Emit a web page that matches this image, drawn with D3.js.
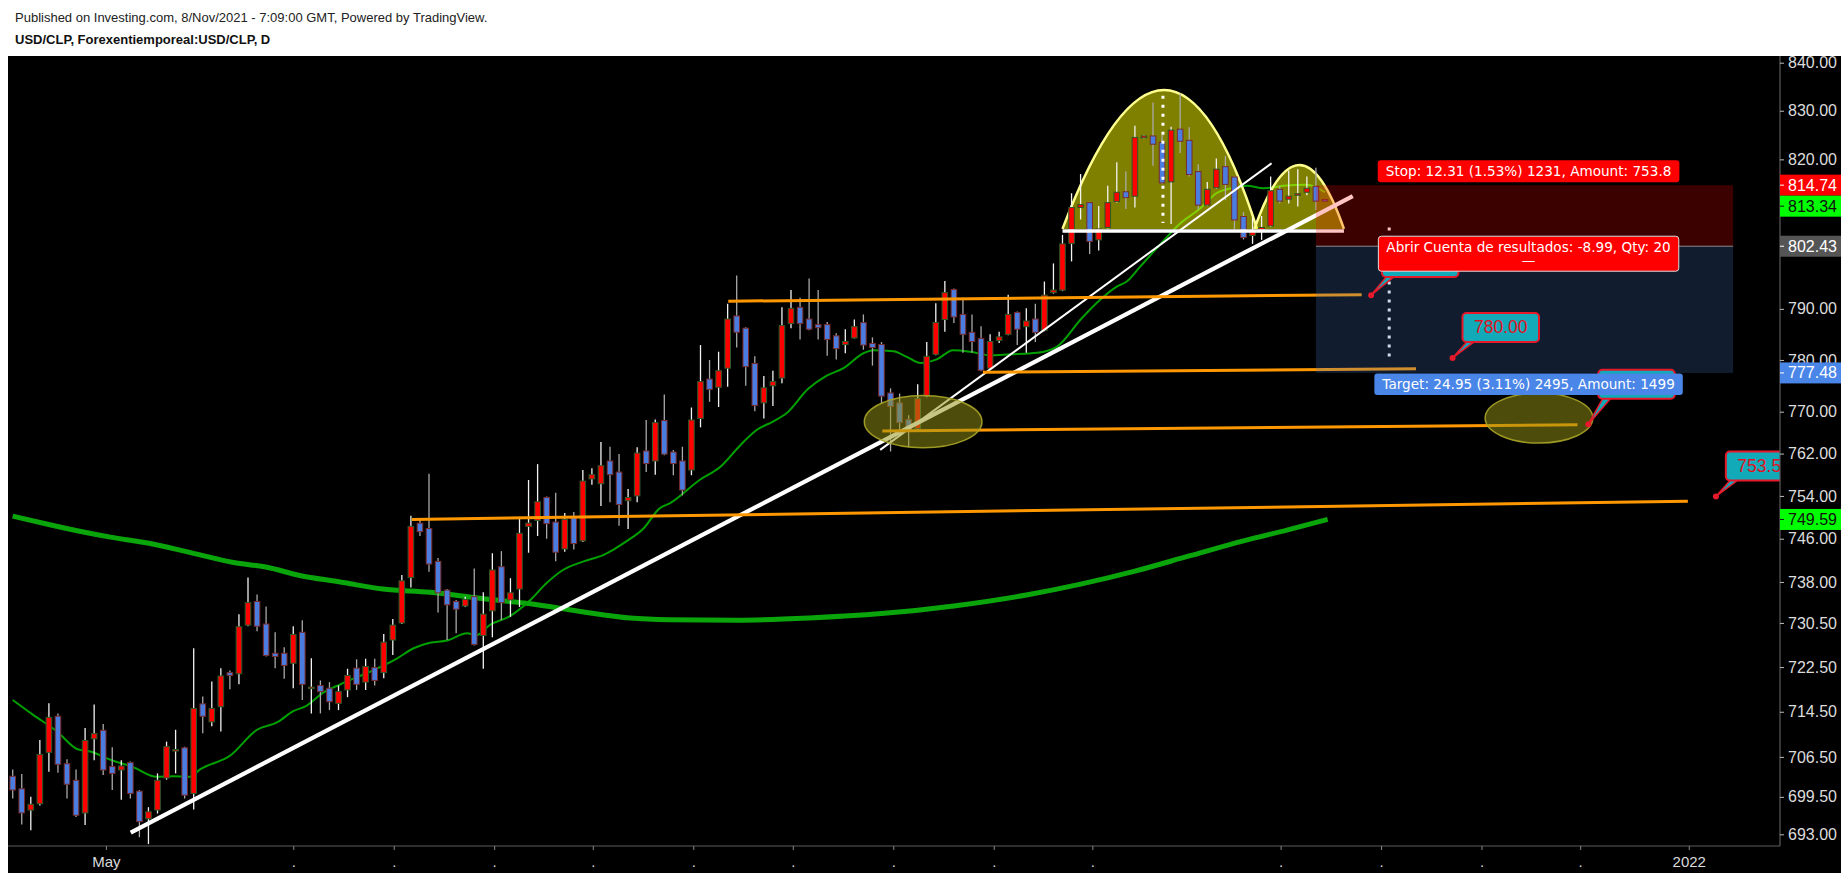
<!DOCTYPE html>
<html><head><meta charset="utf-8">
<script src="https://cdn.jsdelivr.net/npm/d3@7/dist/d3.min.js"></script>
<style>html,body{margin:0;padding:0;background:#fff;}svg{display:block;}</style>
</head><body>
<svg id="chart" width="1848" height="878"></svg>
<script>
// ---------------- DATA ----------------
const opens  = [703.1,700.9,697.2,698.3,707.3,713.7,705.3,702.4,696.7,709.7,711.2,704.8,704.2,705.5,700.5,695.7,697.2,702.8,707.6,708.1,700.1,715.9,712.7,715.4,721.5,721.3,730.1,734.4,730.3,725.0,725.0,723.2,728.8,718.7,719.2,718.7,716.0,718.4,722.3,719.8,722.4,721.5,727.4,730.5,738.8,748.9,747.9,741.8,736.5,734.4,733.6,735.3,728.2,732.7,740.8,734.7,736.7,748.3,749.4,753.7,749.1,744.1,749.9,745.6,757.2,756.3,760.6,758.5,753.1,754.0,762.5,760.6,768.3,762.3,760.6,758.9,768.7,776.3,774.7,778.4,788.6,786.2,779.3,771.7,775.0,776.5,787.1,790.3,788.0,786.9,786.9,784.7,783.0,784.3,787.3,783.2,783.0,773.6,771.7,768.5,766.8,773.0,781.1,787.9,793.8,788.9,785.4,784.2,778.4,783.8,785.0,789.3,786.5,788.0,785.8,793.2,793.7,803.0,810.2,811.2,803.7,806.2,811.4,813.4,812.5,824.4,824.8,823.5,815.4,826.2,823.9,817.5,810.7,814.2,818.5,816.4,808.4,804.6,805.7,806.5,813.9,811.9,812.7,813.3,814.5,811.8];
const highs  = [704.3,703.5,699.5,709.5,716.0,714.2,706.1,704.3,711.6,715.8,712.3,708.2,705.9,705.7,700.7,697.7,703.6,709.2,711.3,708.3,725.9,717.2,719.9,722.3,721.9,732.1,738.8,735.7,733.5,728.8,726.1,729.9,731.0,724.1,720.1,719.8,719.2,722.2,723.9,724.0,724.0,728.5,731.2,739.3,750.3,749.6,758.2,742.4,736.7,734.7,735.3,740.5,736.1,743.3,743.7,738.7,749.8,757.0,760.0,753.9,754.6,750.8,751.0,758.9,759.2,764.2,763.3,761.9,755.3,763.2,768.4,768.5,773.3,762.7,763.3,770.8,782.9,780.0,781.6,791.0,796.6,786.4,780.7,776.9,777.9,790.3,793.7,792.2,796.0,793.7,787.4,785.2,786.0,787.9,788.9,784.4,783.5,774.5,773.5,769.3,775.3,783.5,791.1,795.5,794.0,792.2,788.9,786.6,785.0,785.5,792.8,789.5,790.1,791.0,795.4,799.0,804.7,813.1,817.0,811.4,810.5,814.6,819.4,817.5,826.9,825.0,831.7,825.0,826.7,833.6,826.6,819.0,815.4,820.2,820.7,816.6,809.3,808.2,808.5,816.5,814.5,817.7,818.0,816.5,818.3,811.9];
const lows   = [699.2,694.7,693.7,698.0,703.9,703.7,699.2,696.0,694.6,705.9,703.3,700.7,699.0,699.2,692.5,691.3,696.6,702.5,703.6,699.2,697.3,710.7,711.9,711.0,718.5,719.4,729.9,729.0,724.4,722.3,720.4,718.7,716.6,714.2,714.2,714.8,714.8,717.1,718.4,718.4,719.2,720.5,724.7,730.3,737.0,746.5,739.9,732.4,727.4,728.6,733.4,726.4,722.2,727.9,731.0,731.6,733.4,743.4,746.5,746.0,741.8,743.6,744.0,745.4,756.1,752.1,752.8,748.4,747.8,752.8,758.5,758.0,761.7,757.9,754.1,757.9,767.0,771.9,770.9,774.8,782.4,775.0,770.1,768.7,771.1,775.5,786.2,784.0,785.8,784.0,780.8,780.1,781.3,784.2,782.0,778.9,771.6,762.4,765.3,763.2,766.1,772.8,780.9,785.5,787.2,781.4,781.4,777.8,778.2,783.3,784.8,782.9,781.4,783.5,785.6,793.0,793.5,799.4,807.8,800.9,801.6,806.0,811.2,809.9,810.2,824.2,818.7,815.0,806.9,821.3,816.5,809.8,810.5,814.0,811.7,805.8,803.8,802.9,803.7,806.3,811.1,811.0,810.4,812.7,809.7,811.5];
const closes = [700.7,696.7,698.2,706.9,713.5,705.2,701.7,696.3,709.4,710.6,704.2,703.6,704.9,700.1,695.2,696.9,702.4,708.3,707.8,699.8,715.1,713.7,715.1,720.9,721.0,729.8,734.2,729.9,724.6,724.4,722.8,728.4,719.4,718.9,718.1,716.3,718.1,721.0,719.4,722.6,720.1,727.0,730.1,738.2,748.3,747.3,741.3,736.0,733.8,733.0,734.8,726.6,732.1,740.2,734.2,736.0,747.0,748.9,752.9,748.8,743.5,749.6,745.1,756.8,758.0,759.7,758.0,752.4,753.7,762.1,760.1,767.9,761.9,760.1,755.1,768.4,775.8,774.3,777.9,788.0,785.4,778.7,771.2,774.6,775.8,786.7,790.1,787.1,786.0,786.3,784.0,782.2,783.6,786.5,782.9,782.4,773.0,771.0,767.9,766.5,772.5,780.7,787.3,793.2,788.4,785.0,783.6,778.0,783.6,784.5,788.9,786.0,787.6,785.4,792.7,793.7,802.9,810.2,810.8,803.4,805.9,811.2,813.3,812.2,824.5,824.8,823.1,815.2,826.0,823.7,816.9,810.7,813.9,818.0,814.9,807.7,804.2,805.5,806.2,813.6,811.5,812.5,813.0,814.1,811.5,811.6];

// moving averages: [bar index, price]
const maFast = [[0,716.6],[2.3,713.9],[4.9,711.0],[7.1,707.9],[8.7,707.4],[10.8,706.0],[13.3,704.7],[15.9,703.0],[17.7,703.1],[19.6,703.0],[20.7,704.3],[24.0,706.7],[27.0,711.3],[29.2,712.6],[31.0,714.6],[32.5,715.6],[34.3,717.9],[36.2,719.4],[39.8,721.9],[42.4,724.0],[44.3,725.9],[46.1,726.9],[48.0,727.3],[50.2,728.6],[51.3,728.3],[52.7,730.1],[54.9,731.7],[57.2,734.7],[59.0,737.8],[60.8,740.2],[63.1,741.8],[65.3,743.0],[67.8,745.5],[69.7,747.9],[71.5,751.7],[72.6,752.6],[75.9,757.0],[78.2,759.5],[80.4,763.6],[82.2,766.5],[84.0,768.1],[85.5,769.7],[87.9,774.4],[89.9,776.9],[91.8,778.4],[94.0,781.3],[95.1,781.9],[97.3,781.7],[98.8,780.6],[100.3,779.4],[102.1,780.1],[103.9,781.9],[105.8,781.6],[108.0,780.9],[110.2,781.1],[113.2,781.4],[115.4,782.6],[118.1,788.1],[120.1,791.7],[122.0,794.4],[123.1,795.4],[124.6,798.4],[126.4,802.0],[129.0,807.0],[131.2,810.0],[133.0,813.1],[134.9,814.2],[136.4,814.6],[138.2,814.1],[140.4,814.6],[143.0,814.8],[145.0,813.3]];
const maSlow = [[0,750.2],[4.1,748.6],[7.4,747.4],[10.8,746.3],[15.2,745.1],[19.2,743.6],[24.4,741.6],[28.1,740.7],[31.7,739.2],[36.2,738.0],[40.9,736.7],[46.1,736.1],[51.6,735.0],[57.2,734.0],[62.7,732.6],[68.2,731.4],[72.6,731.1],[80,731.0],[88,731.4],[96,732.2],[104,733.6],[112,735.6],[118,737.6],[124,740.0],[130,742.8],[136,745.6],[141,747.7],[145.3,749.6]];

// axis ticks
const priceTicks = [840,830,820,790,780,770,762,754,746,738,730.5,722.5,714.5,706.5,699.5,693];
const timeTickIdx = [10.3,31.0,42.1,53.2,64.1,75.2,86.2,97.3,108.4,119.3,140.1,151.2,162.3,173.2,185.2];
const timeTickLabels = ['May','.','.','.','.','.','.','.','.','.','.','.','.','.','2022'];

// drawings anchored in [bar index, price]
const arcStarts = [[116.0,805.9],[137.2,805.9]];
const arcCtrls  = [[127.68,863.7],[142.2,832.0]];
const arcEnds   = [[137.5,805.9],[147.1,805.9]];
const arcBase   = [[116.0,805.5],[147.1,805.5]];
const dottedLines = [[[127.1,833.1],[127.1,807.1]],[[152.1,806.2],[152.1,779.6]]];
const trendThick = [[13.04,693.3],[148.07,812.5]];
const trendThin  = [[95.85,762.7],[139.1,819.2]];
const orangeLines = [[[44.1,749.6],[185.1,753.0]],[[79.07,791.5],[149.06,792.8]],[[107.2,777.6],[155.06,778.3]],[[96.1,766.3],[172.9,767.5]]];
const ellipses = [[[94.1,773.1],[107.1,763.1]],[[162.7,773.6],[174.6,764.0]]];
// callouts whose text is hidden behind the position labels carry no text
const callouts = [
  {dot:[150.1,792.7], box:[151.3,802.1], text:''},
  {dot:[159.1,780.4], box:[160.2,789.2], text:'780.00'},
  {dot:[174.1,767.6], box:[175.2,778.1], text:''},
  {dot:[188.2,753.9], box:[189.3,762.4], text:'753.50'}
];
const zoneIdx = [144.0,190.1];
const stopPrice = 814.74, entryPrice = 802.43, targetPrice = 777.48;
const labelCenterIdx = 167.5;
const stopText = 'Stop: 12.31 (1.53%) 1231, Amount: 753.8';
const openText = 'Abrir Cuenta de resultados: -8.99, Qty: 20';
const targetText = 'Target: 24.95 (3.11%) 2495, Amount: 1499';
const valueLabels = [[814.74,'#ff0000','#ffffff'],[813.34,'#00ff00','#111111'],[802.43,'#555555','#ffffff'],[777.48,'#4a86e8','#ffffff'],[749.59,'#00ff00','#111111']];

// ---------------- CHART ----------------
const svg = d3.select('#chart');
const plot = {x0:8, y0:56, x1:1780, y1:846};
const x = d3.scaleLinear().domain([0,145]).range([12.7, 12.7+9.05*145]);
const y = d3.scaleLog().domain([693,840]).range([834.3,62.7]);
const P = p => [x(p[0]), y(p[1])];

svg.append('rect').attr('width',1848).attr('height',878).attr('fill','#fff');
svg.append('text').attr('x',15).attr('y',21.5).attr('font-family','Arial, "Liberation Sans", sans-serif').attr('font-size',13).attr('fill','#222')
  .text('Published on Investing.com, 8/Nov/2021 - 7:09:00 GMT, Powered by TradingView.');
svg.append('text').attr('x',15).attr('y',43.5).attr('font-family','Arial, "Liberation Sans", sans-serif').attr('font-size',13).attr('font-weight','bold').attr('fill','#111')
  .text('USD/CLP, Forexentiemporeal:USD/CLP, D');
svg.append('rect').attr('x',8).attr('y',56).attr('width',1833).attr('height',817).attr('fill','#000');

const defs = svg.append('defs');
defs.append('clipPath').attr('id','clipPlot').append('rect')
  .attr('x',plot.x0).attr('y',plot.y0).attr('width',plot.x1-plot.x0).attr('height',plot.y1-plot.y0);
const g = svg.append('g').attr('clip-path','url(#clipPlot)');

// moving averages
const line = d3.line().x(d=>x(d[0])).y(d=>y(d[1])).curve(d3.curveMonotoneX);
g.append('path').attr('d',line(maSlow)).attr('fill','none').attr('stroke','#0aa50a').attr('stroke-width',5).attr('stroke-linejoin','round');
g.append('path').attr('d',line(maFast)).attr('fill','none').attr('stroke','#00a000').attr('stroke-width',2);

// arcs (fill semi-transparent yellow)
arcStarts.forEach((s,k)=>{
  const p0=P(s), pc=P(arcCtrls[k]), p1=P(arcEnds[k]);
  g.append('path').attr('d',`M${p0}Q${pc} ${p1}Z`).attr('fill','rgba(255,255,0,0.5)');
  g.append('path').attr('d',`M${p0}Q${pc} ${p1}`).attr('fill','none').attr('stroke','#ffff90').attr('stroke-width',2.5);
});

// candles
const idx = d3.range(opens.length);
const up = i => closes[i] >= opens[i];
const cg = g.append('g');
cg.selectAll('line').data(idx).join('line')
  .attr('x1',i=>x(i)).attr('x2',i=>x(i))
  .attr('y1',i=>y(highs[i])).attr('y2',i=>y(lows[i]))
  .attr('stroke',i=>up(i)?'#f2f2f2':'#a9a9a9').attr('stroke-width',1.3);
cg.selectAll('rect').data(idx).join('rect')
  .attr('x',i=>x(i)-2.8).attr('width',5.6)
  .attr('y',i=>y(Math.max(opens[i],closes[i])))
  .attr('height',i=>Math.max(1.5, Math.abs(y(opens[i])-y(closes[i]))))
  .attr('fill',i=>up(i)?'#ff0000':'#4b7de1')
  .attr('stroke',i=>up(i)?'#2a5a2a':'#7a2b2b').attr('stroke-width',1);

// arc base line
g.append('line').attr('x1',x(arcBase[0][0])).attr('y1',y(arcBase[0][1])).attr('x2',x(arcBase[1][0])).attr('y2',y(arcBase[1][1]))
  .attr('stroke','#ffffff').attr('stroke-width',3.5);
// dotted verticals
dottedLines.forEach(l=>{
  g.append('line').attr('x1',x(l[0][0])).attr('y1',y(l[0][1])).attr('x2',x(l[1][0])).attr('y2',y(l[1][1]))
    .attr('stroke','#ffffff').attr('stroke-width',3).attr('stroke-dasharray','3 6');
});
// trend lines
g.append('line').attr('x1',x(trendThin[0][0])).attr('y1',y(trendThin[0][1])).attr('x2',x(trendThin[1][0])).attr('y2',y(trendThin[1][1]))
  .attr('stroke','#ffffff').attr('stroke-width',2);
g.append('line').attr('x1',x(trendThick[0][0])).attr('y1',y(trendThick[0][1])).attr('x2',x(trendThick[1][0])).attr('y2',y(trendThick[1][1]))
  .attr('stroke','#ffffff').attr('stroke-width',4.2);
// orange lines
orangeLines.forEach(l=>{
  g.append('line').attr('x1',x(l[0][0])).attr('y1',y(l[0][1])).attr('x2',x(l[1][0])).attr('y2',y(l[1][1]))
    .attr('stroke','#ff9800').attr('stroke-width',3);
});
// ellipses
ellipses.forEach(e=>{
  const xa=x(e[0][0]), xb=x(e[1][0]), ya=y(e[0][1]), yb=y(e[1][1]);
  g.append('ellipse').attr('cx',(xa+xb)/2).attr('cy',(ya+yb)/2).attr('rx',(xb-xa)/2).attr('ry',(yb-ya)/2)
    .attr('fill','rgba(150,145,22,0.52)').attr('stroke','rgba(170,165,40,0.9)').attr('stroke-width',1.5);
});
// risk/reward zones
const zx0=x(zoneIdx[0]), zx1=x(zoneIdx[1]);
g.append('rect').attr('x',zx0).attr('y',y(stopPrice)).attr('width',zx1-zx0).attr('height',y(entryPrice)-y(stopPrice)).attr('fill','rgba(255,0,0,0.23)');
g.append('rect').attr('x',zx0).attr('y',y(entryPrice)).attr('width',zx1-zx0).attr('height',y(targetPrice)-y(entryPrice)).attr('fill','rgba(68,112,188,0.25)');
g.append('line').attr('x1',zx0).attr('x2',zx1).attr('y1',y(entryPrice)).attr('y2',y(entryPrice)).attr('stroke','#8a8a8a').attr('stroke-width',1);

// callouts
const teal='#12a9b9', cred='#e5192a';
callouts.forEach(c=>{
  const [dx,dy]=P(c.dot), [bx,by]=P(c.box), w=76.5, h=29;
  g.append('path').attr('d',`M${bx+5},${by+h-1}L${dx},${dy}L${bx+13},${by+h-1}`).attr('fill',teal).attr('stroke',cred).attr('stroke-width',1.5);
  g.append('rect').attr('x',bx).attr('y',by).attr('width',w).attr('height',h).attr('rx',4).attr('fill',teal).attr('stroke',cred).attr('stroke-width',2);
  if(c.text) g.append('text').attr('x',bx+w/2).attr('y',by+h/2+6).attr('text-anchor','middle')
    .attr('font-family','Arial, "Liberation Sans", sans-serif').attr('font-size',17.5).attr('fill','#e3101e').text(c.text);
  g.append('circle').attr('cx',dx).attr('cy',dy).attr('r',3).attr('fill',cred);
});

// position labels
const lf='"DejaVu Sans", Verdana, sans-serif', lfs=13.6, lcx=x(labelCenterIdx);
function posLabel(text, top, h, bg, border, extra){
  const t = g.append('text').attr('font-family',lf).attr('font-size',lfs).attr('fill','#fff').attr('text-anchor','middle').text(text);
  const w = t.node().getComputedTextLength()+16;
  g.insert('rect', () => t.node()).attr('x',lcx-w/2).attr('y',top).attr('width',w).attr('height',h).attr('rx',3)
    .attr('fill',bg).attr('stroke',border||'none').attr('stroke-width',1);
  t.attr('x',lcx).attr('y',top+ (extra?16:h/2+5));
  if(extra){ g.append('text').attr('x',lcx).attr('y',top+30).attr('text-anchor','middle').attr('font-family',lf).attr('font-size',lfs).attr('fill','#fff').text(extra); }
}
posLabel(stopText, y(stopPrice)-25, 22, '#ff0000');
posLabel(openText, y(entryPrice)-10, 35, '#ff0000', '#dddddd', '\u2014');
posLabel(targetText, y(targetPrice)+0.5, 21.5, '#4a86e8');

// ---------------- AXES ----------------
const axFont='Arial, "Liberation Sans", sans-serif';
svg.append('line').attr('x1',plot.x1).attr('x2',plot.x1).attr('y1',plot.y0).attr('y2',plot.y1).attr('stroke','#5c5c5c').attr('stroke-width',1.2);
svg.append('line').attr('x1',plot.x0).attr('x2',plot.x1).attr('y1',plot.y1).attr('y2',plot.y1).attr('stroke','#5c5c5c').attr('stroke-width',1.2);

const yAxis = d3.axisRight(y).tickValues(priceTicks).tickFormat(d3.format('.2f')).tickSize(4).tickPadding(4);
const ya = svg.append('g').attr('transform',`translate(${plot.x1},0)`).call(yAxis);
ya.select('.domain').remove();
ya.selectAll('line').attr('stroke','#bbbbbb');
ya.selectAll('text').attr('font-family',axFont).attr('font-size',16).attr('fill','#dcdcdc');

const xAxis = d3.axisBottom(x).tickValues(timeTickIdx).tickFormat((d,i)=>timeTickLabels[i]).tickSize(4).tickPadding(6);
const xa = svg.append('g').attr('transform',`translate(0,${plot.y1})`).call(xAxis);
xa.select('.domain').remove();
xa.selectAll('line').attr('stroke','#888888');
xa.selectAll('text').attr('font-family',axFont).attr('font-size',15).attr('fill','#dcdcdc');

// value labels on price scale with collision shift
const lh=21;
const vl = valueLabels.map(v=>({v:v[0],bg:v[1],fg:v[2],cy:y(v[0])})).sort((a,b)=>a.cy-b.cy);
for(let k=1;k<vl.length;k++){ if(vl[k].cy < vl[k-1].cy+lh) vl[k].cy = vl[k-1].cy+lh; }
vl.forEach(o=>{
  svg.append('rect').attr('x',plot.x1).attr('y',o.cy-lh/2).attr('width',61).attr('height',lh).attr('fill',o.bg);
  svg.append('line').attr('x1',plot.x1).attr('x2',plot.x1+4).attr('y1',o.cy).attr('y2',o.cy).attr('stroke',o.fg);
  svg.append('text').attr('x',plot.x1+8).attr('y',o.cy+5.5).attr('font-family',axFont).attr('font-size',16).attr('fill',o.fg).text(o.v.toFixed(2));
});
</script>
</body></html>
